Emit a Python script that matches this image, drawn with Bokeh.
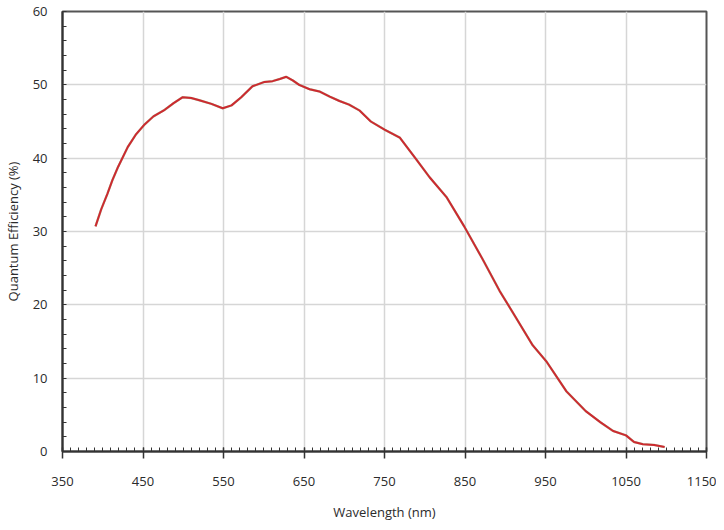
from bokeh.plotting import figure
from bokeh.models import FixedTicker, Range1d
from bokeh.embed import file_html
from bokeh.resources import INLINE

# data
wavelength = [391, 398, 406, 412, 419, 431, 441, 452, 463, 477, 488, 499, 510, 520,
              535, 549, 560, 572, 586, 601, 611, 620, 628, 636, 644, 657, 669, 682,
              694, 706, 719, 733, 750, 769, 789, 806, 827, 849, 872, 893, 913, 934,
              951, 976, 1000, 1018, 1034, 1050, 1060, 1071, 1085, 1098]
qe = [30.7, 33.0, 35.2, 37.0, 38.8, 41.5, 43.2, 44.6, 45.7, 46.6, 47.5, 48.3, 48.2, 47.9,
      47.4, 46.8, 47.2, 48.3, 49.8, 50.4, 50.5, 50.8, 51.1, 50.6, 50.0, 49.4, 49.1, 48.4,
      47.8, 47.3, 46.5, 45.0, 43.9, 42.8, 39.9, 37.4, 34.7, 30.7, 26.2, 21.9, 18.3, 14.5,
      12.3, 8.2, 5.5, 4.0, 2.8, 2.2, 1.3, 1.0, 0.9, 0.6]

x_ticks = [350, 450, 550, 650, 750, 850, 950, 1050, 1150]
x_minor = list(range(350, 1151, 10))
y_ticks = [0, 10, 20, 30, 40, 50, 60]
y_minor = list(range(0, 61, 2))

FONT = "Open Sans"
TXT = "#2b2b2b"

p = figure(frame_width=644, frame_height=440, output_backend="svg", toolbar_location=None,
           x_range=Range1d(350, 1150), y_range=Range1d(0, 60),
           min_border_left=0, min_border_right=10, min_border_top=11, min_border_bottom=0,
           background_fill_color="white", border_fill_color="white")

p.outline_line_color = "#555555"
p.outline_line_width = 2

p.line(wavelength, qe, line_color="#7a9a5a", line_width=2.4, line_alpha=0.5)
p.line(wavelength, qe, line_color="#cc2a30", line_width=2)

xa = p.xaxis[0]
xa.ticker = FixedTicker(ticks=x_ticks, minor_ticks=x_minor)
xa.axis_label = "Wavelength (nm)"
xa.major_tick_in = 4
xa.major_tick_out = 7
xa.minor_tick_in = 4
xa.minor_tick_out = 0
xa.major_label_standoff = 18
xa.axis_label_standoff = 14

ya = p.yaxis[0]
ya.ticker = FixedTicker(ticks=y_ticks, minor_ticks=y_minor)
ya.axis_label = "Quantum Efficiency (%)"
ya.major_tick_in = 0
ya.major_tick_out = 0
ya.minor_tick_in = 4
ya.minor_tick_out = 0
ya.major_label_standoff = 15
ya.axis_label_standoff = 8

for ax in (xa, ya):
    ax.axis_line_color = "#333333"
    ax.axis_line_width = 2
    ax.major_tick_line_color = "#333333"
    ax.major_tick_line_width = 1.5
    ax.minor_tick_line_color = "#333333"
    ax.minor_tick_line_width = 1
    ax.major_label_text_font = FONT
    ax.major_label_text_font_size = "13px"
    ax.major_label_text_color = TXT
    ax.axis_label_text_font = FONT
    ax.axis_label_text_font_size = "13px"
    ax.axis_label_text_font_style = "normal"
    ax.axis_label_text_color = TXT

p.xgrid.ticker = FixedTicker(ticks=x_ticks)
p.ygrid.ticker = FixedTicker(ticks=y_ticks)
for g in (p.xgrid[0], p.ygrid[0]):
    g.grid_line_color = "#d6d6d6"
    g.grid_line_width = 1.5

open("out.html", "w").write(file_html(p, INLINE))
